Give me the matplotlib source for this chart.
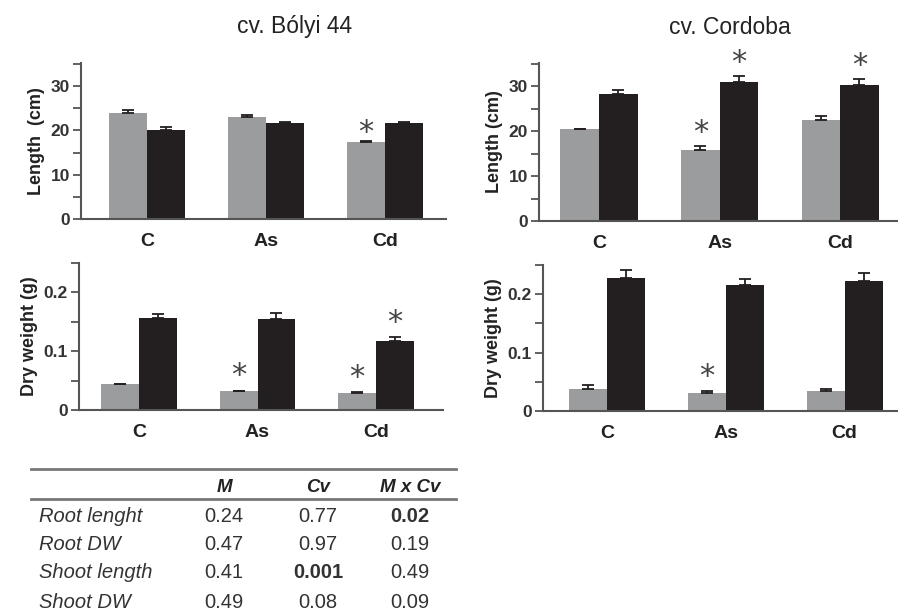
import matplotlib
matplotlib.use("Agg")
import matplotlib.pyplot as plt
from matplotlib.ticker import FixedLocator
import numpy as np

W, H = 898, 613

categories = ["C", "As", "Cd"]

# cv. Bólyi 44 - length (cm)
b_len_gray = [24.0, 23.0, 17.4]
b_len_gray_err = [0.6, 0.5, 0.2]
b_len_black = [20.0, 21.7, 21.7]
b_len_black_err = [0.7, 0.1, 0.1]
b_len_star_gray = [False, False, True]
b_len_star_black = [False, False, False]

# cv. Cordoba - length (cm)
c_len_gray = [20.4, 15.9, 22.4]
c_len_gray_err = [0.2, 0.9, 0.9]
c_len_black = [28.2, 31.0, 30.4]
c_len_black_err = [0.9, 1.4, 1.2]
c_len_star_gray = [False, True, False]
c_len_star_black = [False, True, True]

# cv. Bólyi 44 - dry weight (g)
b_dw_gray = [0.044, 0.032, 0.029]
b_dw_gray_err = [0.001, 0.001, 0.001]
b_dw_black = [0.156, 0.154, 0.118]
b_dw_black_err = [0.007, 0.011, 0.006]
b_dw_star_gray = [False, True, True]
b_dw_star_black = [False, False, True]

# cv. Cordoba - dry weight (g)
c_dw_gray = [0.038, 0.030, 0.035]
c_dw_gray_err = [0.007, 0.004, 0.003]
c_dw_black = [0.227, 0.215, 0.222]
c_dw_black_err = [0.014, 0.011, 0.014]
c_dw_star_gray = [False, True, False]
c_dw_star_black = [False, False, False]

# statistics table
table_cols = ["M", "Cv", "M x Cv"]
table_rows = ["Root lenght", "Root DW", "Shoot length", "Shoot DW"]
table_M = ["0.24", "0.47", "0.41", "0.49"]
table_Cv = ["0.77", "0.97", "0.001", "0.08"]
table_MxCv = ["0.02", "0.19", "0.49", "0.09"]
table_bold = [(0, 2), (2, 1)]

GRAY = "#9b9c9e"
BLACK = "#231f20"
AXC = "#555555"
FONT = ["Liberation Sans", "DejaVu Sans"]
plt.rcParams["font.family"] = FONT

fig = plt.figure(figsize=(W / 100, H / 100), dpi=100)


def px_axes(x0, x1, ytop, ybot):
    return fig.add_axes([x0 / W, 1 - ybot / H, (x1 - x0) / W, (ybot - ytop) / H])


def draw_panel(ax, gray, gerr, black, berr, sg, sb, ymax, major, minor,
               ylabel, xlim, fmt, star_off):
    x = np.arange(len(categories))
    bw = 0.32
    ax.bar(x - bw / 2, gray, bw, color=GRAY, zorder=2)
    ax.bar(x + bw / 2, black, bw, color=BLACK, zorder=2)
    ax.errorbar(x - bw / 2, gray, yerr=[np.zeros(3), gerr], fmt="none",
                ecolor=BLACK, elinewidth=1.3, capsize=4, capthick=1.3, zorder=3)
    ax.errorbar(x + bw / 2, black, yerr=[np.zeros(3), berr], fmt="none",
                ecolor=BLACK, elinewidth=1.3, capsize=4, capthick=1.3, zorder=3)
    for i in range(3):
        if sg[i]:
            ax.text(x[i] - bw / 2, gray[i] + gerr[i] + star_off, "*",
                    ha="center", va="center", fontsize=22, color="#444444",
                    family="DejaVu Sans")
        if sb[i]:
            ax.text(x[i] + bw / 2, black[i] + berr[i] + star_off, "*",
                    ha="center", va="center", fontsize=22, color="#444444",
                    family="DejaVu Sans")
    ax.set_xlim(*xlim)
    ax.set_ylim(0, ymax)
    for s in ["top", "right"]:
        ax.spines[s].set_visible(False)
    for s in ["left", "bottom"]:
        ax.spines[s].set_color(AXC)
        ax.spines[s].set_linewidth(1.5)
    ax.yaxis.set_major_locator(FixedLocator(major))
    ax.yaxis.set_minor_locator(FixedLocator(minor))
    ax.set_yticklabels([fmt(v) for v in major])
    ax.tick_params(axis="y", which="both", length=6, width=1.3, color=AXC,
                   labelsize=12.5, pad=2)
    for t in ax.get_yticklabels():
        t.set_fontweight("bold")
        t.set_color("#333333")
    ax.set_xticks(x)
    ax.set_xticklabels(categories, fontsize=14, fontweight="bold", color="#222222")
    ax.tick_params(axis="x", length=0, pad=10)
    ax.set_ylabel(ylabel, fontsize=13, fontweight="bold", color="#222222",
                  labelpad=4)


len_fmt = lambda v: f"{v:g}"
dw_fmt = lambda v: "0" if v == 0 else f"{v:.1f}"

ax1 = px_axes(81, 446, 63, 219)
draw_panel(ax1, b_len_gray, b_len_gray_err, b_len_black, b_len_black_err,
           b_len_star_gray, b_len_star_black, 35.2, [0, 10, 20, 30],
           [5, 15, 25, 35], "Length  (cm)", (-0.557, 2.515), len_fmt, 2.0)

ax2 = px_axes(539, 898, 63, 221)
draw_panel(ax2, c_len_gray, c_len_gray_err, c_len_black, c_len_black_err,
           c_len_star_gray, c_len_star_black, 35.2, [0, 10, 20, 30],
           [5, 15, 25, 35], "Length (cm)", (-0.498, 2.48), len_fmt, 3.0)

ax3 = px_axes(79, 443, 263, 410)
draw_panel(ax3, b_dw_gray, b_dw_gray_err, b_dw_black, b_dw_black_err,
           b_dw_star_gray, b_dw_star_black, 0.25, [0, 0.1, 0.2],
           [0.05, 0.15, 0.25], "Dry weight (g)", (-0.506, 2.565), dw_fmt, 0.025)

ax4 = px_axes(543, 898, 265, 411)
draw_panel(ax4, c_dw_gray, c_dw_gray_err, c_dw_black, c_dw_black_err,
           c_dw_star_gray, c_dw_star_black, 0.25, [0, 0.1, 0.2],
           [0.05, 0.15, 0.25], "Dry weight (g)", (-0.538, 2.45), dw_fmt, 0.025)

fig.text(295 / W, 1 - 27 / H, "cv. Bólyi 44", ha="center", va="center",
         fontsize=16.5, color="#222222")
fig.text(730 / W, 1 - 27 / H, "cv. Cordoba", ha="center", va="center",
         fontsize=16.5, color="#222222")

# table
axt = fig.add_axes([0, 0, 1, 1], facecolor="none")
axt.set_xlim(0, W)
axt.set_ylim(H, 0)
axt.axis("off")
axt.plot([31, 456], [469, 469], color="#777777", lw=2)
axt.plot([31, 456], [499, 499], color="#777777", lw=2)
col_x = [224, 318, 410]
tc = "#333333"
for cx, name in zip(col_x, table_cols):
    axt.text(cx, 487, name, ha="center", va="center", fontsize=13.5,
             fontweight="bold", style="italic", color="#222222")
row_y = [517, 545, 573, 602]
cols = [table_M, table_Cv, table_MxCv]
for r, (ry, rname) in enumerate(zip(row_y, table_rows)):
    axt.text(39, ry, rname, ha="left", va="center", fontsize=14.5,
             style="italic", color=tc)
    for c, (cx, col) in enumerate(zip(col_x, cols)):
        bold = (r, c) in table_bold
        axt.text(cx, ry, col[r], ha="center", va="center", fontsize=14.5,
                 fontweight="bold" if bold else "normal", color=tc)

fig.savefig("out.png", dpi=100)
